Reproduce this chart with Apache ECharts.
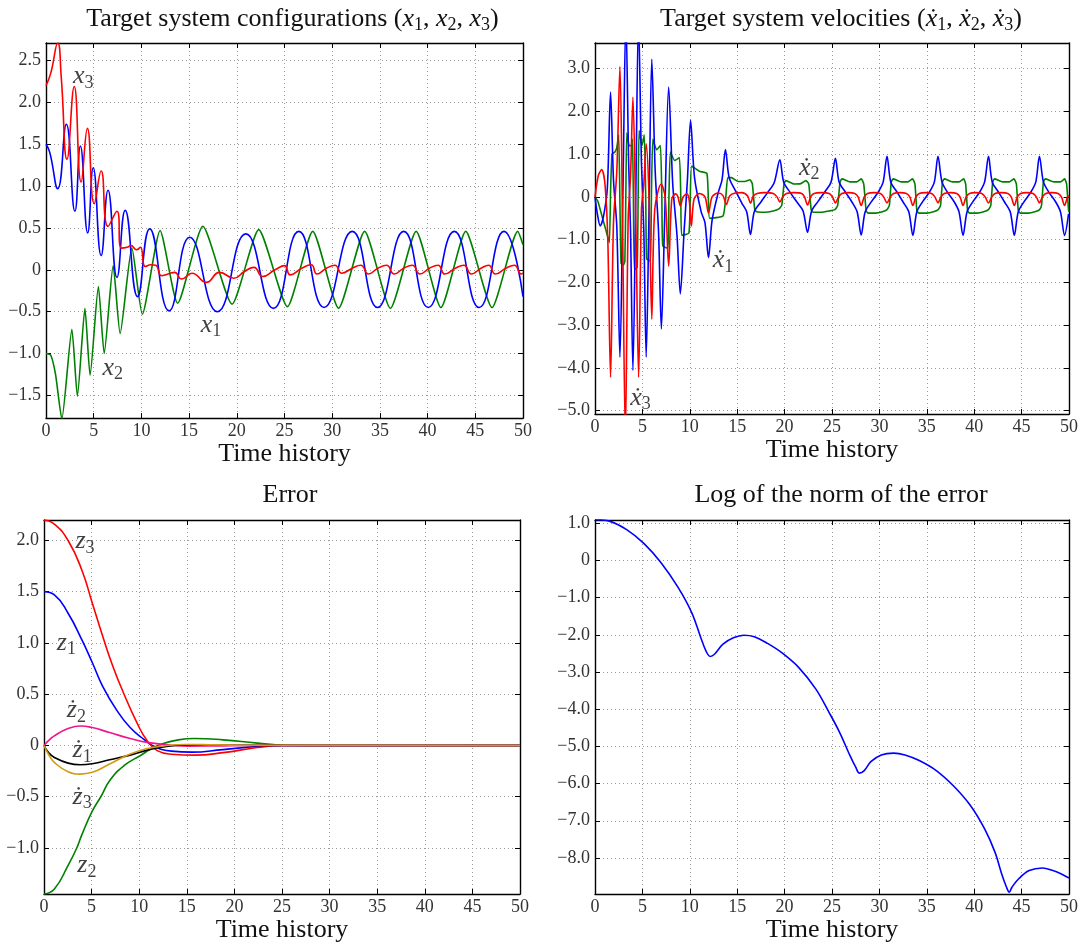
<!DOCTYPE html>
<html><head><meta charset="utf-8">
<script src="https://cdn.jsdelivr.net/npm/echarts@6/dist/echarts.min.js"></script>
<style>html,body{margin:0;padding:0;background:#fff}#c{width:1081px;height:947px}</style>
</head><body><div id="c"></div>
<script>
// ---------- DATA ----------
const xTicks = [0,5,10,15,20,25,30,35,40,45,50];
const yTicks1 = [-1.5,-1,-0.5,0,0.5,1,1.5,2,2.5];
const yTicks2 = [-5,-4,-3,-2,-1,0,1,2,3];
const yTicks3 = [-1,-0.5,0,0.5,1,1.5,2];
const yTicks4 = [-8,-7,-6,-5,-4,-3,-2,-1,0,1];

// Panel 1: configurations
const x1 = [[0,1.5],[0.4,1.4],[1.23,0.97],[2.13,1.74],[3.03,0.70],[3.6,1.48],[4.37,0.44],[4.95,1.22],[5.78,0.17],[6.5,0.95],[7.44,-0.09],[8.3,0.71],[9.6,-0.32],[10.87,0.49],[12.9,-0.49],[15.07,0.39],[17.96,-0.50],[20.95,0.43],[23.84,-0.46],[26.5,0.46],[29.15,-0.45],[32.1,0.46],[34.75,-0.45],[37.5,0.46],[40.07,-0.45],[42.8,0.46],[45.4,-0.45],[48.0,0.46],[50,-0.32]];
const x2 = [[0,-1.0],[0.5,-1.02],[1.0,-1.25],[1.66,-1.78],[2.71,-0.71],[3.29,-1.51],[4.08,-0.46],[4.62,-1.26],[5.49,-0.2],[6.1,-1.0],[7.04,0.05],[7.77,-0.76],[9.0,0.26],[10.1,-0.53],[11.96,0.47],[13.8,-0.40],[16.44,0.52],[19.5,-0.41],[22.3,0.48],[25.3,-0.44],[27.96,0.46],[30.67,-0.46],[33.4,0.46],[36.1,-0.46],[38.8,0.46],[41.4,-0.45],[44.0,0.46],[46.75,-0.45],[49.45,0.46],[50,0.3]];
const x3 = [[0,2.2],[0.5,2.35],[1.23,2.71],[1.6,2.3],[2.2,1.32],[2.96,2.19],[3.68,1.05],[4.34,1.69],[5.06,0.79],[5.78,1.18],[6.5,0.52],[7.44,0.70],[7.9,0.26],[8.5,0.27],[8.9,0.29],[9.5,0.24],[9.9,0.27],[10.4,0.04],[11.0,0.06],[11.5,0.055],[12.1,-0.07],[12.8,-0.05],[13.5,-0.03],[14.2,-0.11],[15.3,-0.04],[16.8,-0.15],[18.2,-0.03],[19.7,-0.10],[20.8,-0.02],[21.8,0.03],[22.7,-0.08],[24.0,0.0],[25.0,0.05],[25.6,-0.06],[26.8,0.02],[27.8,0.06],[28.4,-0.05],[29.4,0.02],[30.3,0.055],[31.0,-0.04],[32.1,0.02],[33.0,0.055],[33.8,-0.05],[34.8,0.02],[35.7,0.055],[36.5,-0.05],[37.5,0.02],[38.4,0.055],[39.2,-0.05],[40.2,0.02],[41.1,0.055],[41.8,-0.05],[42.9,0.02],[43.8,0.055],[44.6,-0.05],[45.6,0.02],[46.4,0.055],[47.1,-0.05],[48.2,0.02],[49.1,0.055],[49.8,-0.05],[50,-0.04]];

// Panel 2: velocities
const v1 = [[0,0],[0.25,-0.4],[0.55,-0.68],[0.9,-0.45],[1.3,0.2],[1.64,2.45],[1.95,0.4],[2.3,-0.7],[2.63,-3.75],[2.95,0.2],[3.26,4.2],[3.55,0.8],[3.75,-0.8],[4.0,-4.06],[4.3,0],[4.59,4.2],[4.9,0.8],[5.15,-0.8],[5.4,-3.75],[5.7,-0.3],[5.99,3.22],[6.35,0.6],[6.7,-0.8],[7.0,-3.09],[7.35,-0.5],[7.77,2.57],[8.2,0.3],[8.65,-0.9],[9.0,-2.27],[9.4,-0.8],[9.75,0.4],[10.08,1.79],[10.5,0.45],[11.2,-0.35],[11.6,-0.6],[11.97,-1.42],[12.35,-0.55],[13.0,0.1],[13.4,0.4],[13.76,1.11],[14.15,0.45],[14.8,0.15],[15.5,-0.15],[16.0,-0.35],[16.4,-0.88],[16.8,-0.35],[17.5,-0.12],[18.2,0.1],[18.9,0.33],[19.5,0.87],[19.9,0.35],[20.6,0.1],[21.3,-0.12],[21.95,-0.33],[22.42,-0.83],[22.85,-0.33],[23.55,-0.1],[24.25,0.12],[24.9,0.35],[25.36,0.9],[25.75,0.35],[26.45,0.1],[27.1,-0.12],[27.65,-0.35],[28.08,-0.89],[28.5,-0.35],[29.2,-0.1],[29.9,0.12],[30.4,0.35],[30.8,0.95],[31.2,0.35],[31.9,0.1],[32.5,-0.12],[33.1,-0.35],[33.53,-0.9],[33.95,-0.35],[34.6,-0.1],[35.3,0.12],[35.8,0.35],[36.18,0.95],[36.6,0.35],[37.2,0.1],[37.9,-0.12],[38.4,-0.35],[38.82,-0.9],[39.25,-0.35],[39.9,-0.1],[40.6,0.12],[41.1,0.35],[41.51,0.95],[41.9,0.35],[42.6,0.1],[43.2,-0.12],[43.8,-0.35],[44.23,-0.9],[44.65,-0.35],[45.3,-0.1],[46.0,0.12],[46.5,0.35],[46.88,0.95],[47.3,0.35],[47.9,0.1],[48.6,-0.12],[49.1,-0.35],[49.53,-0.9],[49.95,-0.4]];
const v2 = [[0,0],[0.3,-0.1],[0.8,-0.5],[1.3,-0.9],[1.52,-1.07],[1.65,0.2],[1.8,1.0],[2.1,1.05],[2.3,1.15],[2.5,1.45],[2.62,0],[2.75,-1.55],[3.0,-1.6],[3.15,-1.5],[3.25,0],[3.35,1.5],[3.6,1.2],[3.85,1.2],[3.95,1.35],[4.05,0],[4.15,-1.7],[4.45,-1.65],[4.55,0],[4.65,1.55],[4.95,1.2],[5.2,1.45],[5.35,0],[5.45,-1.45],[5.85,-1.5],[5.95,0],[6.1,1.35],[6.5,1.1],[6.9,1.2],[7.05,0],[7.15,-1.15],[7.7,-1.2],[7.8,0],[7.95,1.05],[8.4,0.85],[8.9,0.92],[9.05,0],[9.15,-0.9],[9.9,-0.85],[10.05,0],[10.2,0.72],[11.0,0.6],[11.8,0.55],[11.95,0],[12.1,-0.5],[13.5,-0.45],[13.8,0],[14.0,0.45],[14.4,0.45],[15.1,0.36],[15.8,0.36],[16.35,0.4],[16.6,0.3],[16.85,-0.3],[17.05,-0.35],[17.9,-0.36],[18.8,-0.33],[19.4,-0.28],[19.7,-0.2],[19.95,0.32],[20.15,0.38],[21.0,0.3],[21.7,0.31],[22.25,0.38],[22.55,0.3],[22.8,-0.3],[23.0,-0.36],[23.9,-0.36],[24.7,-0.33],[25.3,-0.3],[25.6,-0.2],[25.85,0.35],[26.05,0.42],[26.9,0.35],[27.6,0.35],[28.1,0.42],[28.35,0.3],[28.6,-0.32],[28.8,-0.38],[29.6,-0.38],[30.3,-0.35],[30.8,-0.3],[31.05,-0.2],[31.25,0.35],[31.45,0.42],[32.3,0.35],[33.0,0.35],[33.5,0.42],[33.75,0.3],[33.95,-0.32],[34.15,-0.38],[35.0,-0.38],[35.7,-0.35],[36.2,-0.3],[36.45,-0.2],[36.65,0.35],[36.85,0.42],[37.7,0.35],[38.4,0.35],[38.9,0.42],[39.1,0.3],[39.3,-0.32],[39.5,-0.38],[40.3,-0.38],[41.0,-0.35],[41.5,-0.3],[41.75,-0.2],[41.95,0.35],[42.15,0.42],[43.0,0.35],[43.7,0.35],[44.2,0.42],[44.45,0.3],[44.65,-0.32],[44.85,-0.38],[45.7,-0.38],[46.4,-0.35],[46.9,-0.3],[47.1,-0.2],[47.3,0.35],[47.5,0.42],[48.4,0.35],[49.1,0.35],[49.55,0.42],[49.75,0.3],[49.95,-0.3],[50,-0.35]];
const v3 = [[0,0],[0.35,0.5],[0.7,0.64],[1.05,0.3],[1.35,-1.0],[1.64,-4.22],[1.95,-0.6],[2.3,0.6],[2.63,3.05],[2.9,-0.5],[3.2,-5.6],[3.5,-0.5],[3.75,0.5],[4.0,2.33],[4.3,-0.5],[4.6,-4.22],[4.9,-0.3],[5.15,0.3],[5.4,1.24],[5.7,0],[5.99,-2.86],[6.3,-0.3],[6.98,0.3],[7.4,0],[7.77,-1.62],[8.1,-0.05],[8.5,0.07],[8.75,0.0],[9.0,-0.21],[9.3,0.0],[9.7,0.07],[9.95,-0.1],[10.16,-0.68],[10.45,-0.05],[11.0,0.08],[11.6,0.0],[11.97,-0.38],[12.35,0.0],[13.0,0.09],[13.5,0.03],[13.86,-0.18],[14.2,0.02],[14.8,0.09],[15.5,0.1],[16.1,0.02],[16.4,-0.15],[16.7,0.02],[17.1,0.08],[17.9,0.1],[18.8,0.08],[19.2,0.0],[19.5,-0.12],[19.8,0.0],[20.2,0.08],[21.0,0.1],[21.8,0.08],[22.1,0.0],[22.42,-0.19],[22.75,0.0],[23.1,0.08],[23.9,0.1],[24.7,0.08],[25.05,0.0],[25.36,-0.14],[25.7,0.0],[26.05,0.08],[26.7,0.1],[27.4,0.08],[27.75,0.0],[28.08,-0.2],[28.4,0.0],[28.75,0.08],[29.45,0.1],[30.1,0.08],[30.45,0.0],[30.8,-0.14],[31.15,0.0],[31.5,0.08],[32.15,0.1],[32.85,0.08],[33.2,0.0],[33.53,-0.2],[33.85,0.0],[34.2,0.08],[34.85,0.1],[35.5,0.08],[35.85,0.0],[36.18,-0.14],[36.5,0.0],[36.85,0.08],[37.5,0.1],[38.15,0.08],[38.5,0.0],[38.82,-0.2],[39.15,0.0],[39.5,0.08],[40.15,0.1],[40.8,0.08],[41.15,0.0],[41.51,-0.14],[41.85,0.0],[42.2,0.08],[42.85,0.1],[43.55,0.08],[43.9,0.0],[44.23,-0.2],[44.55,0.0],[44.9,0.08],[45.55,0.1],[46.2,0.08],[46.55,0.0],[46.88,-0.14],[47.2,0.0],[47.55,0.08],[48.2,0.1],[48.85,0.08],[49.2,0.0],[49.53,-0.2],[49.85,0.0],[50,0.03]];

// Panel 3: error
const z1 = [[0,1.5],[1.09,1.47],[2.53,1.29],[3.98,1.03],[5.07,0.81],[6.15,0.58],[7.6,0.35],[9.05,0.175],[10.5,0.06],[11.6,-0.01],[13.4,-0.055],[15.5,-0.065],[18.8,-0.04],[22.4,-0.01],[25,0],[30,0],[50,0]];
const z2 = [[0,-1.45],[1.09,-1.40],[2.53,-1.17],[3.44,-1.0],[3.98,-0.87],[5.07,-0.64],[5.97,-0.5],[7.0,-0.33],[8.5,-0.19],[10.1,-0.1],[11.2,-0.035],[12.3,0.013],[14.1,0.055],[15.8,0.068],[18.8,0.055],[22.4,0.023],[25.3,0.003],[30,0],[50,0]];
const z3 = [[0,2.2],[1.09,2.16],[2.53,2.0],[3.98,1.71],[5.07,1.39],[6.15,1.07],[7.24,0.77],[8.32,0.52],[9.77,0.22],[10.85,0.045],[11.9,-0.05],[13.4,-0.085],[15.8,-0.094],[18.8,-0.07],[22.4,-0.02],[25,0],[30,0],[50,0]];
const zd1 = [[0,0],[0.5,-0.07],[1.09,-0.117],[2.53,-0.172],[3.8,-0.188],[5.07,-0.178],[6.9,-0.14],[9.05,-0.094],[10.85,-0.045],[12.7,-0.013],[14.5,0.003],[17,0.006],[20,0.003],[25,0],[50,0]];
const zd2 = [[0,0],[0.5,0.05],[1.09,0.094],[2.53,0.165],[3.8,0.19],[5.07,0.175],[6.9,0.126],[9.05,0.068],[10.85,0.03],[13.4,0.003],[15.2,-0.006],[18,-0.004],[22,0],[50,0]];
const zd3 = [[0,0],[0.5,-0.09],[1.09,-0.165],[2.53,-0.256],[3.8,-0.279],[5.07,-0.262],[6.9,-0.18],[9.05,-0.084],[10.85,-0.03],[12.7,-0.003],[14.8,0.01],[18,0.006],[22,0.002],[50,0]];

// Panel 4: log of the norm of the error
const logNorm = [[0,1.10],[1.52,1.06],[3.34,0.83],[5.15,0.46],[6.97,-0.06],[8.78,-0.73],[10.2,-1.40],[11.1,-2.03],[11.7,-2.43],[12.15,-2.58],[12.6,-2.52],[13.5,-2.25],[14.6,-2.08],[15.7,-2.01],[16.8,-2.05],[18.2,-2.23],[19.7,-2.48],[21.5,-2.88],[23.3,-3.46],[24.7,-4.09],[25.8,-4.62],[26.9,-5.25],[27.5,-5.56],[27.9,-5.72],[28.4,-5.65],[29.1,-5.41],[30.2,-5.23],[31.5,-5.18],[32.7,-5.23],[34.2,-5.38],[36.0,-5.65],[37.8,-6.06],[39.6,-6.59],[41.1,-7.22],[42.2,-7.85],[42.9,-8.43],[43.4,-8.78],[43.7,-8.92],[44.0,-8.78],[44.7,-8.56],[45.8,-8.34],[47.2,-8.27],[48.3,-8.34],[49.2,-8.43],[50,-8.54]];

// annotations: [symbol, subscript, t, value]
const notes1 = [['x','3',3.9,2.31],['x','1',17.3,-0.66],['x','2',7.0,-1.17]];
const notes2 = [['\u1E8B','2',22.6,0.67],['\u1E8B','1',13.5,-1.49],['\u1E8B','3',4.8,-4.7]];
const notes3 = [['z','3',4.3,1.99],['z','1',2.35,1.0],['\u017C','2',3.4,0.34],['\u017C','1',4.0,-0.05],['\u017C','3',4.0,-0.5],['z','2',4.5,-1.17]];

const titles = [
  'Target system configurations ({i|x}{s|1}, {i|x}{s|2}, {i|x}{s|3})',
  'Target system velocities ({i|\u1E8B}{s|1}, {i|\u1E8B}{s|2}, {i|\u1E8B}{s|3})',
  'Error',
  'Log of the norm of the error'
];
const yRanges = [[-1.77,2.71],[-5.08,3.6],[-1.449,2.2],[-8.97,1.09]];

// ---------- LAYOUT / STYLE ----------
const FONT = 'Liberation Serif';
const grids = [
  {left:46, top:43, width:477, height:375},
  {left:595, top:43, width:476, height:371},
  {left:44, top:520, width:476, height:374},
  {left:595, top:520, width:476, height:374}
];
const yTickSets = [yTicks1, yTicks2, yTicks3, yTicks4];
const rich = {
  i:{fontFamily:FONT, fontStyle:'italic', fontSize:26, color:'#111', lineHeight:30},
  s:{fontFamily:FONT, fontSize:18, color:'#111', lineHeight:18, padding:[13,0,0,0]}
};
function fmt(v){ if (Math.abs(v) < 1e-9) return '0'; return v.toFixed(1).replace('-', '\u2212'); }

const xAxes = [], yAxes = [], titleOpts = [];
grids.forEach((g, i) => {
  const tickStyle = {inside:true, length:5, lineStyle:{color:'#000', width:1}};
  const lineStyle = {onZero:false, lineStyle:{color:'#000', width:1.4}};
  const split = {show:true, lineStyle:{color:'#9a9a9a', type:[1,3], width:1}};
  xAxes.push({type:'value', gridIndex:i, min:0, max:50, interval:5, position:'bottom',
    axisLine:lineStyle, axisTick:tickStyle,
    axisLabel:{fontFamily:FONT, fontSize:18, color:'#333', margin:4},
    splitLine:split,
    name:'Time history', nameLocation:'middle', nameGap:22,
    nameTextStyle:{fontFamily:FONT, fontSize:26, color:'#111'}});
  xAxes.push({type:'value', gridIndex:i, min:0, max:50, interval:5, position:'top',
    axisLine:lineStyle, axisTick:tickStyle, axisLabel:{show:false}, splitLine:{show:false}});
  const yt = yTickSets[i];
  yAxes.push({type:'value', gridIndex:i, min:yRanges[i][0], max:yRanges[i][1], position:'left',
    axisLine:lineStyle, axisTick:Object.assign({customValues:yt}, tickStyle),
    axisLabel:{customValues:yt, fontFamily:FONT, fontSize:18, color:'#333', margin:5, formatter:fmt},
    splitLine:split});
  yAxes.push({type:'value', gridIndex:i, min:yRanges[i][0], max:yRanges[i][1], position:'right',
    axisLine:lineStyle, axisTick:Object.assign({customValues:yt}, tickStyle),
    axisLabel:{show:false}, splitLine:{show:false}});
  titleOpts.push({text:titles[i], left:g.left + g.width/2 + 3, textAlign:'center',
    top: i < 2 ? -1 : 477,
    textStyle:{fontFamily:FONT, fontSize:26, fontWeight:'normal', color:'#111', rich:rich}});
});

function line(panel, data, color, smooth, z){
  return {type:'line', xAxisIndex:panel*2, yAxisIndex:panel*2, data:data, showSymbol:false, symbol:'none',
    smooth:smooth, lineStyle:{color:color, width:1.6}, itemStyle:{color:color}, z:z||2, clip:true, animation:false};
}
function notes(panel, list){
  return {type:'scatter', xAxisIndex:panel*2, yAxisIndex:panel*2, symbolSize:0, z:10, silent:true,
    data:list.map(n => ({value:[n[2], n[3]], name:n[0], sub:n[1]})),
    label:{show:true, position:'inside', formatter:p => '{i|' + p.data.name + '}{s|' + p.data.sub + '}', rich:rich}};
}

const BLUE='#0000ff', RED='#ff0000', GREEN='#008000', PINK='#f0168c', BLACK='#000000', GOLD='#d49a10';
const series = [
  line(0, x2, GREEN, 0.2), line(0, x1, BLUE, 0.5), line(0, x3, RED, 0.5), notes(0, notes1),
  line(1, v2, GREEN, 0.15), line(1, v1, BLUE, 0.3), line(1, v3, RED, 0.3), notes(1, notes2),
  line(2, z1, BLUE, 0.5), line(2, z2, GREEN, 0.5), line(2, z3, RED, 0.5),
  line(2, zd2, PINK, 0.5), line(2, zd1, BLACK, 0.5), line(2, zd3, GOLD, 0.5), notes(2, notes3),
  line(3, logNorm, BLUE, 0.35)
];

const chart = echarts.init(document.getElementById('c'), null, {renderer:'canvas'});
chart.setOption({
  animation:false, backgroundColor:'#fff',
  title:titleOpts, grid:grids, xAxis:xAxes, yAxis:yAxes, series:series
});
</script></body></html>
